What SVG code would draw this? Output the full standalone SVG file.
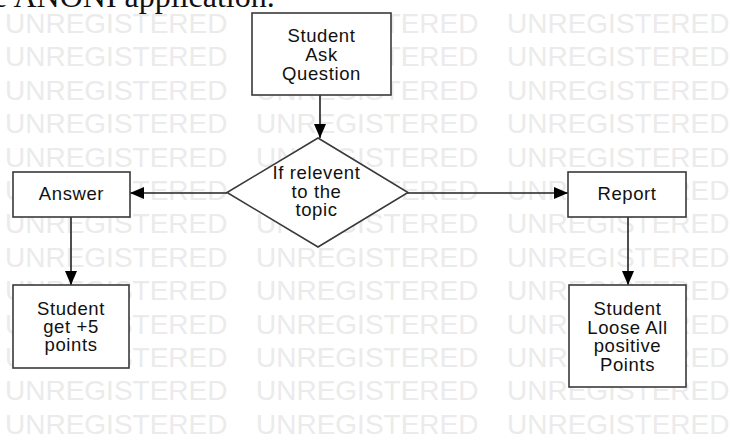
<svg xmlns="http://www.w3.org/2000/svg" xmlns:xlink="http://www.w3.org/1999/xlink" width="730" height="443" viewBox="0 0 730 443">
<style>
.wm{font-family:"Liberation Sans",Arial,sans-serif;font-size:28px;fill:#ebebeb}
.hdr{font-family:"Liberation Serif","Times New Roman",serif;font-size:32px;fill:#111}
.box{fill:#fff;stroke:#3a3a3a;stroke-width:1.6}
.lbl{font-family:"Liberation Sans",Arial,sans-serif;font-size:18.5px;letter-spacing:0.6px;fill:#111;text-anchor:middle}
.con{fill:none;stroke:#222;stroke-width:1.6}
</style>
<defs>
<marker id="ah" viewBox="0 0 14 12" refX="14" refY="6" markerWidth="14" markerHeight="12" markerUnits="userSpaceOnUse" orient="auto">
<path d="M0,0 L14,6 L0,12 Z" fill="#000"/>
</marker>
<text id="wmrow" class="wm"><tspan x="5">UNREGISTERED</tspan><tspan x="256">UNREGISTERED</tspan><tspan x="507">UNREGISTERED</tspan></text>
</defs>
<rect width="730" height="443" fill="#fff"/>
<g id="watermark">
<use xlink:href="#wmrow" y="33"/>
<use xlink:href="#wmrow" y="66.4"/>
<use xlink:href="#wmrow" y="99.8"/>
<use xlink:href="#wmrow" y="133.2"/>
<use xlink:href="#wmrow" y="166.6"/>
<use xlink:href="#wmrow" y="200"/>
<use xlink:href="#wmrow" y="233.4"/>
<use xlink:href="#wmrow" y="266.8"/>
<use xlink:href="#wmrow" y="300.2"/>
<use xlink:href="#wmrow" y="333.6"/>
<use xlink:href="#wmrow" y="367"/>
<use xlink:href="#wmrow" y="400.4"/>
<use xlink:href="#wmrow" y="433.8"/>
</g>
<text class="hdr" x="-23" y="7">he ANONI application.</text>
<g id="connectors">
<path class="con" d="M320,95 L320,138" marker-end="url(#ah)"/>
<path class="con" d="M227,193 L130,193" marker-end="url(#ah)"/>
<path class="con" d="M407,193 L568,193" marker-end="url(#ah)"/>
<path class="con" d="M71,217 L71,285" marker-end="url(#ah)"/>
<path class="con" d="M628,217 L628,285" marker-end="url(#ah)"/>
</g>
<g id="ask">
<rect class="box" x="252" y="13" width="139" height="82"/>
<text class="lbl"><tspan x="321.5" y="41.5">Student</tspan><tspan x="321.5" y="60.5">Ask</tspan><tspan x="321.5" y="79.5">Question</tspan></text>
</g>
<g id="decision">
<polygon class="box" points="318,138 408,192.5 318,247 227,192.5"/>
<text class="lbl"><tspan x="316.5" y="179">If relevent</tspan><tspan x="316.5" y="197.5">to the</tspan><tspan x="316.5" y="216">topic</tspan></text>
</g>
<g id="answer">
<rect class="box" x="13" y="172" width="117" height="45"/>
<text class="lbl" x="71.5" y="200">Answer</text>
</g>
<g id="report">
<rect class="box" x="568" y="172" width="118" height="45"/>
<text class="lbl" x="627" y="200">Report</text>
</g>
<g id="plus5">
<rect class="box" x="13" y="285" width="116" height="83"/>
<text class="lbl"><tspan x="71" y="315">Student</tspan><tspan x="71" y="333">get +5</tspan><tspan x="71" y="351">points</tspan></text>
</g>
<g id="loose">
<rect class="box" x="569" y="285" width="117" height="102"/>
<text class="lbl"><tspan x="627.5" y="315">Student</tspan><tspan x="627.5" y="333.5">Loose All</tspan><tspan x="627.5" y="352">positive</tspan><tspan x="627.5" y="370.5">Points</tspan></text>
</g>
</svg>
